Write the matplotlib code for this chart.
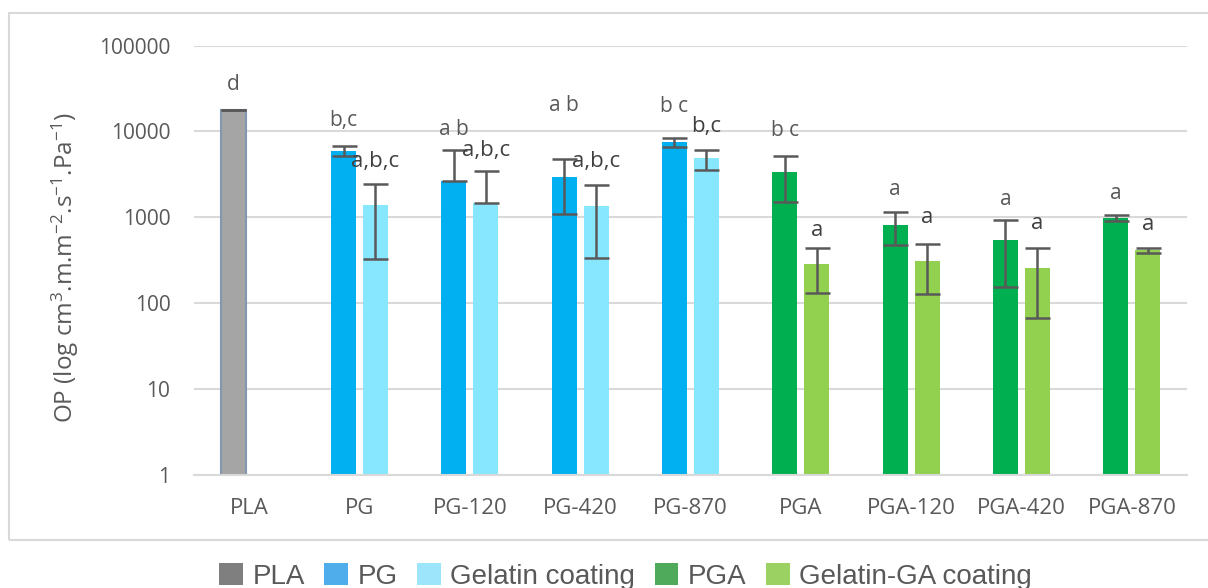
import matplotlib.pyplot as plt
from matplotlib import font_manager
from matplotlib.patches import Patch, Rectangle
import numpy as np

categories = ["PLA", "PG", "PG-120", "PG-420", "PG-870",
              "PGA", "PGA-120", "PGA-420", "PGA-870"]

# uncoated films (first bar of each group)
base_op = [17700, 5950, 2660, 2910, 7500, 3360, 810, 540, 985]
base_sd = [100, 750, 3390, 1815, 910, 1875, 340, 385, 80]
base_letters = ["d", "b,c", "a b", "a b", "b c", "b c", "a", "a", "a"]

# coated films (second bar), none for PLA
coat_op = [np.nan, 1395, 1450, 1346, 4845, 284, 308, 255, 414]
coat_sd = [np.nan, 1070, 2025, 1010, 1280, 152, 180, 188, 27]
coat_letters = ["", "a,b,c", "a,b,c", "a,b,c", "b,c", "a", "a", "a", "a"]

# heights of the significance letters
base_letter_y = [35600, 13300, 10640, 20250, 19700, 10360, 2125, 1625, 1910]
coat_letter_y = [np.nan, 4425, 5940, 4510, 11530, 707, 1003, 853, 831]

legend_labels = ["PLA", "PG", "Gelatin coating", "PGA", "Gelatin-GA coating"]

base_colors = ["#A5A5A5"] + ["#00B0F0"] * 4 + ["#00B050"] * 4
coat_colors = ["none"] + ["#87E7FF"] * 4 + ["#92D050"] * 4
legend_colors = ["#7F7F7F", "#4EADEA", "#9DE5FA", "#4FAA5C", "#9BD062"]

names = {f.name for f in font_manager.fontManager.ttflist}
narrow = "Liberation Sans Narrow" if "Liberation Sans Narrow" in names else "Open Sans"

plt.rcParams["font.family"] = ["Open Sans", "DejaVu Sans"]
plt.rcParams["mathtext.fontset"] = "custom"
plt.rcParams["mathtext.rm"] = "Open Sans"
plt.rcParams["mathtext.it"] = "Open Sans"

text_grey = "#595959"
grid_grey = "#D9D9D9"

fig = plt.figure(figsize=(12.08, 5.88), dpi=100)
ax = fig.add_axes([0.1606, 0.193, 0.822, 0.7293])

x = np.arange(len(categories))
off = 0.145
width = 0.226


def lower_err(vals, sds):
    # on a log axis the minus bar is dropped when it would reach zero
    return [0 if s >= v else s for v, s in zip(vals, sds)]


edges = ["#8497B0"] + ["none"] * 8
ax.bar(x - off, base_op, width, color=base_colors, edgecolor=edges,
       linewidth=1.5, zorder=2)
ax.bar(x + off, coat_op, width, color=coat_colors, zorder=2)

err_style = dict(fmt="none", ecolor=text_grey, elinewidth=1.8,
                 capsize=9, capthick=1.8, zorder=3)
ax.errorbar(x - off, base_op, yerr=[lower_err(base_op, base_sd), base_sd],
            **err_style)
ax.errorbar(x[1:] + off, coat_op[1:],
            yerr=[lower_err(coat_op[1:], coat_sd[1:]), coat_sd[1:]],
            **err_style)

for i in range(len(categories)):
    ax.text(x[i] - off, base_letter_y[i], base_letters[i], ha="center",
            va="center", fontsize=15, color=text_grey)
    if coat_letters[i]:
        ax.text(x[i] + off, coat_letter_y[i], coat_letters[i], ha="center",
                va="center", fontsize=16, color="#404040")

ax.set_yscale("log")
ax.set_ylim(1, 100000)
ax.set_xlim(-0.5, len(categories) - 0.5)
ticks = [1, 10, 100, 1000, 10000, 100000]
ax.set_yticks(ticks)
ax.set_yticklabels([str(t) for t in ticks])
ax.minorticks_off()
ax.set_xticks(x)
ax.set_xticklabels(categories, fontfamily=narrow)
ax.tick_params(axis="y", length=0, pad=17, labelsize=15, labelcolor=text_grey)
ax.tick_params(axis="x", length=0, pad=17, labelsize=16, labelcolor=text_grey)

ax.grid(axis="y", color=grid_grey, linewidth=1.5, zorder=0)
ax.set_axisbelow(True)
for side in ["left", "right", "top"]:
    ax.spines[side].set_visible(False)
ax.spines["bottom"].set_color(grid_grey)
ax.spines["bottom"].set_linewidth(1.5)

fig.text(65 / 1208, 1 - 268 / 588,
         r"OP (log cm$^{3}$.m.m$^{-2}$.s$^{-1}$.Pa$^{-1}$)",
         rotation=90, ha="center", va="center", fontsize=17.5, color=text_grey)

# chart frame
fig.patches.append(Rectangle((0.0075, 0.0816), 1.05, 0.897, fill=False,
                             edgecolor=grid_grey, linewidth=1.5,
                             transform=fig.transFigure, figure=fig))

handles = [Patch(facecolor=c, edgecolor="none") for c in legend_colors]
fig.legend(handles, legend_labels, loc="upper left",
           bbox_to_anchor=(219 / 1208, 1 - 563 / 588), ncol=5, frameon=False,
           prop={"family": "Liberation Sans", "size": 20},
           labelcolor=text_grey, handlelength=0.85, handleheight=0.85,
           handletextpad=0.35, columnspacing=0.7, borderpad=0,
           borderaxespad=0)

fig.savefig("out.png", dpi=100)
